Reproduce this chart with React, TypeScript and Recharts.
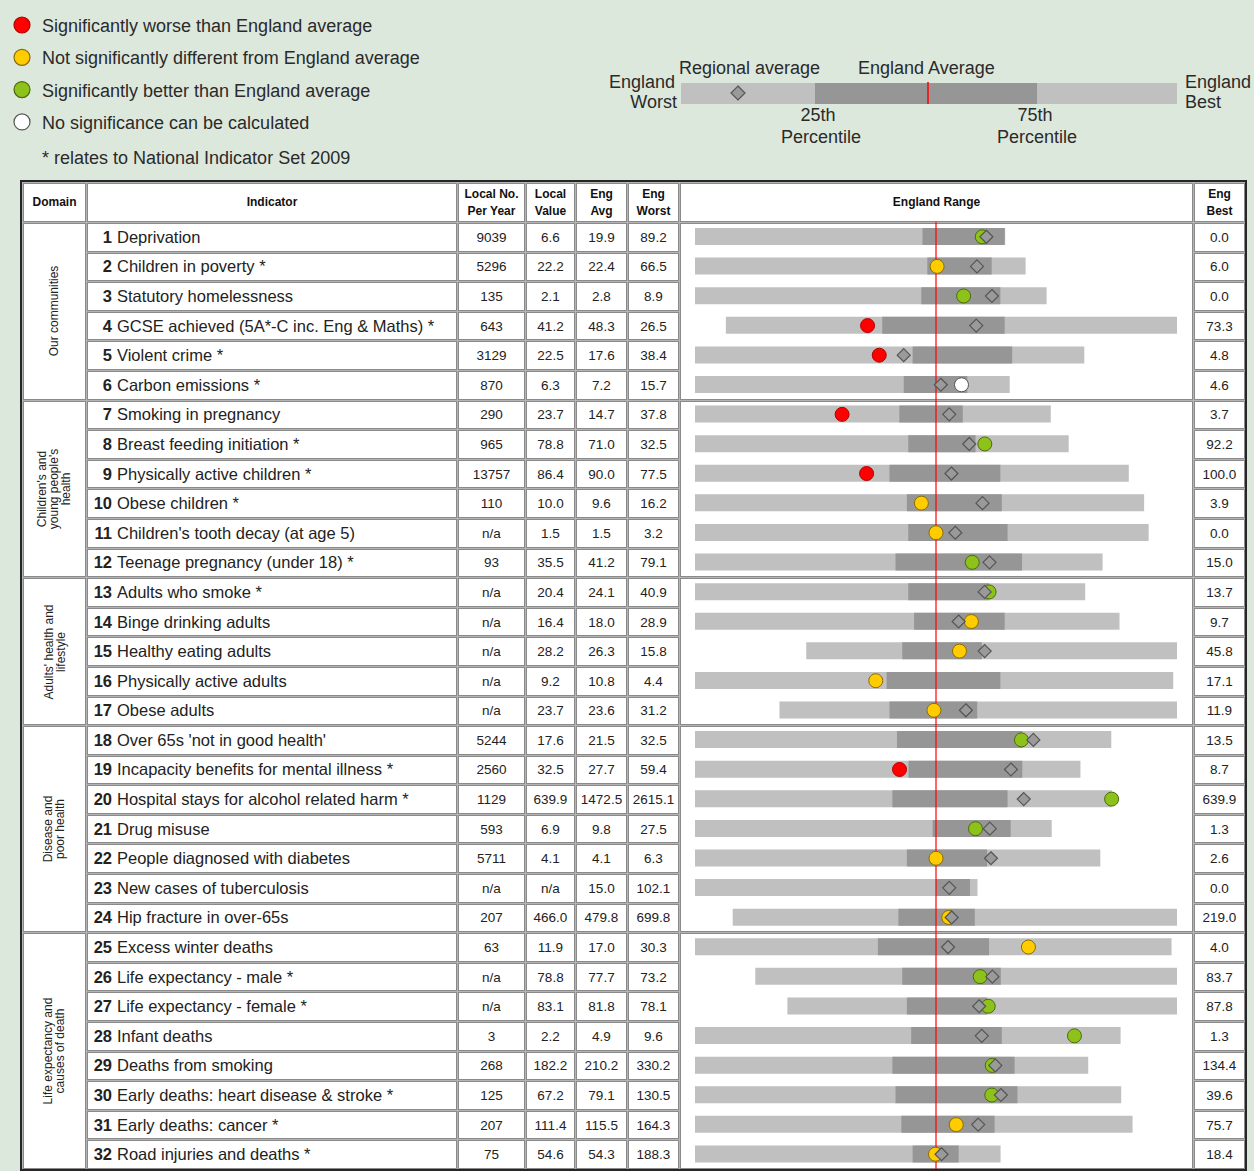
import React from 'react'
import { ComposedChart, Bar, Scatter, XAxis, YAxis, ReferenceLine } from 'recharts'

// ---- data ----
const domainLabels = [
	['Our communities'],
	["Children's and", "young people's", 'health'],
	["Adults' health and", 'lifestyle'],
	['Disease and', 'poor health'],
	['Life expectancy and', 'causes of death'],
]
const domainSizes = [6, 6, 5, 7, 8]

const indicators = [
	'Deprivation',
	'Children in poverty *',
	'Statutory homelessness',
	'GCSE achieved (5A*-C inc. Eng & Maths) *',
	'Violent crime *',
	'Carbon emissions *',
	'Smoking in pregnancy',
	'Breast feeding initiation *',
	'Physically active children *',
	'Obese children *',
	"Children's tooth decay (at age 5)",
	'Teenage pregnancy (under 18) *',
	'Adults who smoke *',
	'Binge drinking adults',
	'Healthy eating adults',
	'Physically active adults',
	'Obese adults',
	"Over 65s 'not in good health'",
	'Incapacity benefits for mental illness *',
	'Hospital stays for alcohol related harm *',
	'Drug misuse',
	'People diagnosed with diabetes',
	'New cases of tuberculosis',
	'Hip fracture in over-65s',
	'Excess winter deaths',
	'Life expectancy - male *',
	'Life expectancy - female *',
	'Infant deaths',
	'Deaths from smoking',
	'Early deaths: heart disease & stroke *',
	'Early deaths: cancer *',
	'Road injuries and deaths *',
]

const localNo = [9039, 5296, 135, 643, 3129, 870, 290, 965, 13757, 110, null, 93, null, null, null, null, null, 5244, 2560, 1129, 593, 5711, null, 207, 63, null, null, 3, 268, 125, 207, 75]
const localValue = [6.6, 22.2, 2.1, 41.2, 22.5, 6.3, 23.7, 78.8, 86.4, 10.0, 1.5, 35.5, 20.4, 16.4, 28.2, 9.2, 23.7, 17.6, 32.5, 639.9, 6.9, 4.1, null, 466.0, 11.9, 78.8, 83.1, 2.2, 182.2, 67.2, 111.4, 54.6]
const engAvg = [19.9, 22.4, 2.8, 48.3, 17.6, 7.2, 14.7, 71.0, 90.0, 9.6, 1.5, 41.2, 24.1, 18.0, 26.3, 10.8, 23.6, 21.5, 27.7, 1472.5, 9.8, 4.1, 15.0, 479.8, 17.0, 77.7, 81.8, 4.9, 210.2, 79.1, 115.5, 54.3]
const engWorst = [89.2, 66.5, 8.9, 26.5, 38.4, 15.7, 37.8, 32.5, 77.5, 16.2, 3.2, 79.1, 40.9, 28.9, 15.8, 4.4, 31.2, 32.5, 59.4, 2615.1, 27.5, 6.3, 102.1, 699.8, 30.3, 73.2, 78.1, 9.6, 330.2, 130.5, 164.3, 188.3]
const engBest = [0.0, 6.0, 0.0, 73.3, 4.8, 4.6, 3.7, 92.2, 100.0, 3.9, 0.0, 15.0, 13.7, 9.7, 45.8, 17.1, 11.9, 13.5, 8.7, 639.9, 1.3, 2.6, 0.0, 219.0, 4.0, 83.7, 87.8, 1.3, 134.4, 39.6, 75.7, 18.4]

// w = significantly worse, s = not different, b = significantly better, n = none
const significance = ['b', 's', 'b', 'w', 'w', 'n', 'w', 'b', 'w', 's', 's', 'b', 'b', 's', 's', 's', 's', 'b', 'w', 'b', 'b', 's', 'n', 's', 's', 'b', 'b', 'b', 'b', 'b', 's', 's']

// spine positions (-1 = chart left end, 0 = England average, 1 = right end)
const quartileLow = [-0.056, -0.036, -0.061, -0.223, -0.097, -0.134, -0.152, -0.115, -0.193, -0.121, -0.115, -0.168, -0.115, -0.091, -0.14, -0.205, -0.193, -0.162, -0.114, -0.181, -0.014, -0.121, 0.0, -0.156, -0.241, -0.14, -0.121, -0.103, -0.181, -0.168, -0.144, -0.097]
const quartileHigh = [0.285, 0.231, 0.267, 0.285, 0.316, 0.13, 0.111, 0.164, 0.267, 0.273, 0.297, 0.357, 0.22, 0.285, 0.19, 0.267, 0.171, 0.357, 0.358, 0.297, 0.31, 0.212, 0.141, 0.161, 0.22, 0.269, 0.212, 0.273, 0.326, 0.338, 0.243, 0.094]
const regionalAvg = [0.209, 0.17, 0.232, 0.167, -0.134, 0.02, 0.055, 0.138, 0.064, 0.193, 0.08, 0.222, 0.202, 0.094, 0.202, null, 0.124, 0.404, 0.311, 0.364, 0.223, 0.228, 0.055, 0.065, 0.05, 0.234, 0.179, 0.19, 0.246, 0.269, 0.175, 0.023]

const sigFill: Record<string, string> = { w: '#ff0000', s: '#ffcc00', b: '#8cc21a', n: '#ffffff' }
const sigStroke: Record<string, string> = { w: '#b00000', s: '#8a6d00', b: '#4d6b0a', n: '#555555' }

const rows = indicators.map((name, i) => {
	const avg = engAvg[i]
	const dir = engBest[i] >= engWorst[i] ? 1 : -1
	const span = Math.max(Math.abs(engWorst[i] - avg), Math.abs(engBest[i] - avg))
	const pos = (v: number) => ((v - avg) * dir) / span
	const lv = localValue[i]
	return {
		name,
		range: [pos(engWorst[i]), pos(engBest[i])],
		mid: [quartileLow[i], quartileHigh[i]],
		local: lv == null ? null : pos(lv),
		regional: regionalAvg[i],
		sig: significance[i],
	}
})

// ---- layout ----
const FONT = '"Liberation Sans", Arial, sans-serif'
const colX = [22, 86, 457, 525, 575, 627, 679, 1193, 1245]
const headTop = 182
const bodyTop = 222
const bodyBottom = 1169
const rowH = (bodyBottom - bodyTop) / indicators.length

const fmt = (v: number | null) => (v == null ? 'n/a' : v.toFixed(1))

function Cell({ x0, x1, y0, y1, children, style }: any) {
	return (
		<div
			style={{
				position: 'absolute',
				left: x0 + 1,
				top: y0 + 1,
				width: x1 - x0 - 1,
				height: y1 - y0 - 1,
				boxSizing: 'border-box',
				border: '1px solid #8a8a8a',
				background: '#fff',
				display: 'flex',
				alignItems: 'center',
				justifyContent: 'center',
				overflow: 'hidden',
				...style,
			}}
		>
			{children}
		</div>
	)
}

const LocalDot = (props: any) => {
	const { cx, cy, payload } = props
	if (cx == null || cy == null || isNaN(cx)) return <g />
	return <circle cx={cx} cy={cy} r={7} fill={sigFill[payload.sig]} stroke={sigStroke[payload.sig]} strokeWidth={1} />
}

const RegionDiamond = (props: any) => {
	const { cx, cy } = props
	if (cx == null || cy == null || isNaN(cx)) return <g />
	const d = 6.5
	return (
		<polygon
			points={`${cx},${cy - d} ${cx + d},${cy} ${cx},${cy + d} ${cx - d},${cy}`}
			fill="#9a9a9a"
			stroke="#555"
			strokeWidth={1.2}
		/>
	)
}

function KeyLegend() {
	const items = [
		['w', 'Significantly worse than England average'],
		['s', 'Not significantly different from England average'],
		['b', 'Significantly better than England average'],
		['n', 'No significance can be calculated'],
	]
	return (
		<svg width={1254} height={178} style={{ position: 'absolute', left: 0, top: 0 }} fontFamily={FONT} fontSize={18} fill="#2a2a2a">
			{items.map(([k, label], i) => (
				<g key={k}>
					<circle cx={22} cy={25 + i * 32.3} r={8} fill={sigFill[k]} stroke={sigStroke[k]} strokeWidth={1.2} />
					<text x={42} y={26 + i * 32.3} dominantBaseline="central">{label}</text>
				</g>
			))}
			<text x={42} y={158} dominantBaseline="central">* relates to National Indicator Set 2009</text>

			<text x={675} y={82} textAnchor="end" dominantBaseline="central">England</text>
			<text x={677} y={102} textAnchor="end" dominantBaseline="central">Worst</text>
			<rect x={681} y={83} width={496} height={21} fill="#c0c0c0" />
			<rect x={815} y={83} width={222} height={21} fill="#969696" />
			<line x1={928} x2={928} y1={82} y2={104} stroke="#ff0000" strokeWidth={1.5} />
			<polygon points="738,86 745,93 738,100 731,93" fill="#9a9a9a" stroke="#555" strokeWidth={1.2} />
			<text x={679} y={68} dominantBaseline="central">Regional average</text>
			<text x={858} y={68} dominantBaseline="central">England Average</text>
			<text x={818} y={115} textAnchor="middle" dominantBaseline="central">25th</text>
			<text x={821} y={137} textAnchor="middle" dominantBaseline="central">Percentile</text>
			<text x={1035} y={115} textAnchor="middle" dominantBaseline="central">75th</text>
			<text x={1037} y={137} textAnchor="middle" dominantBaseline="central">Percentile</text>
			<text x={1185} y={82} dominantBaseline="central">England</text>
			<text x={1185} y={102} dominantBaseline="central">Best</text>
		</svg>
	)
}

export default function App() {
	const headers: [number, React.ReactNode][] = [
		[0, 'Domain'],
		[1, 'Indicator'],
		[2, <>Local No.<br />Per Year</>],
		[3, <>Local<br />Value</>],
		[4, <>Eng<br />Avg</>],
		[5, <>Eng<br />Worst</>],
		[6, 'England Range'],
		[7, <>Eng<br />Best</>],
	]
	const headStyle = { fontWeight: 'bold', fontSize: 12, lineHeight: '17px', textAlign: 'center' as const, color: '#111' }
	const numStyle = { fontSize: 13.5, color: '#222' }

	let start = 0
	const groups = domainSizes.map((n, g) => {
		const y0 = bodyTop + start * rowH
		const y1 = bodyTop + (start + n) * rowH
		start += n
		return { g, y0, y1 }
	})

	return (
		<div
			style={{
				position: 'absolute',
				left: 0,
				top: 0,
				width: 1254,
				height: 1171,
				overflow: 'hidden',
				background: '#dde8dd',
				fontFamily: FONT,
			}}
		>
			<KeyLegend />
			{/* table frame */}
			<div
				style={{
					position: 'absolute',
					left: 20,
					top: 180,
					width: 1227,
					height: 991,
					boxSizing: 'border-box',
					border: '2px solid #262626',
					background: '#b4b4b4',
				}}
			/>
			{headers.map(([c, label]) => (
				<Cell key={c} x0={colX[c]} x1={colX[c + 1]} y0={headTop} y1={bodyTop} style={headStyle}>
					<div>{label}</div>
				</Cell>
			))}
			{groups.map(({ g, y0, y1 }) => (
				<React.Fragment key={g}>
					<Cell x0={colX[0]} x1={colX[1]} y0={y0} y1={y1}>
						<div style={{ transform: 'rotate(-90deg)', whiteSpace: 'nowrap', textAlign: 'center', fontSize: 12, lineHeight: '12px', color: '#222' }}>
							{domainLabels[g].map((l) => (
								<div key={l}>{l}</div>
							))}
						</div>
					</Cell>
					<Cell x0={colX[6]} x1={colX[7]} y0={y0} y1={y1} />
				</React.Fragment>
			))}
			{indicators.map((name, i) => {
				const y0 = bodyTop + i * rowH
				const y1 = y0 + rowH
				return (
					<React.Fragment key={name}>
						<Cell x0={colX[1]} x1={colX[2]} y0={y0} y1={y1} style={{ justifyContent: 'flex-start', fontSize: 16.5, color: '#222', whiteSpace: 'nowrap' }}>
							<span style={{ display: 'inline-block', width: 24, textAlign: 'right', fontWeight: 'bold' }}>{i + 1}</span>
							<span style={{ marginLeft: 5 }}>{name}</span>
						</Cell>
						<Cell x0={colX[2]} x1={colX[3]} y0={y0} y1={y1} style={numStyle}>{localNo[i] == null ? 'n/a' : localNo[i]}</Cell>
						<Cell x0={colX[3]} x1={colX[4]} y0={y0} y1={y1} style={numStyle}>{fmt(localValue[i])}</Cell>
						<Cell x0={colX[4]} x1={colX[5]} y0={y0} y1={y1} style={numStyle}>{fmt(engAvg[i])}</Cell>
						<Cell x0={colX[5]} x1={colX[6]} y0={y0} y1={y1} style={numStyle}>{fmt(engWorst[i])}</Cell>
						<Cell x0={colX[7]} x1={colX[8]} y0={y0} y1={y1} style={numStyle}>{fmt(engBest[i])}</Cell>
					</React.Fragment>
				)
			})}
			<div style={{ position: 'absolute', left: 679, top: bodyTop }}>
				<ComposedChart
					layout="vertical"
					width={514}
					height={bodyBottom - bodyTop}
					data={rows}
					margin={{ top: 0, right: 16, bottom: 0, left: 16 }}
					barGap={-17}
				>
					<XAxis type="number" domain={[-1, 1]} allowDataOverflow hide />
					<YAxis type="category" dataKey="name" hide />
					<Bar dataKey="range" fill="#c0c0c0" barSize={17} isAnimationActive={false} />
					<Bar dataKey="mid" fill="#969696" barSize={17} isAnimationActive={false} />
					<Scatter dataKey="local" shape={LocalDot} isAnimationActive={false} />
					<Scatter dataKey="regional" shape={RegionDiamond} isAnimationActive={false} />
					<ReferenceLine x={0} stroke="#ff0000" strokeWidth={1.2} />
				</ComposedChart>
			</div>
		</div>
	)
}
